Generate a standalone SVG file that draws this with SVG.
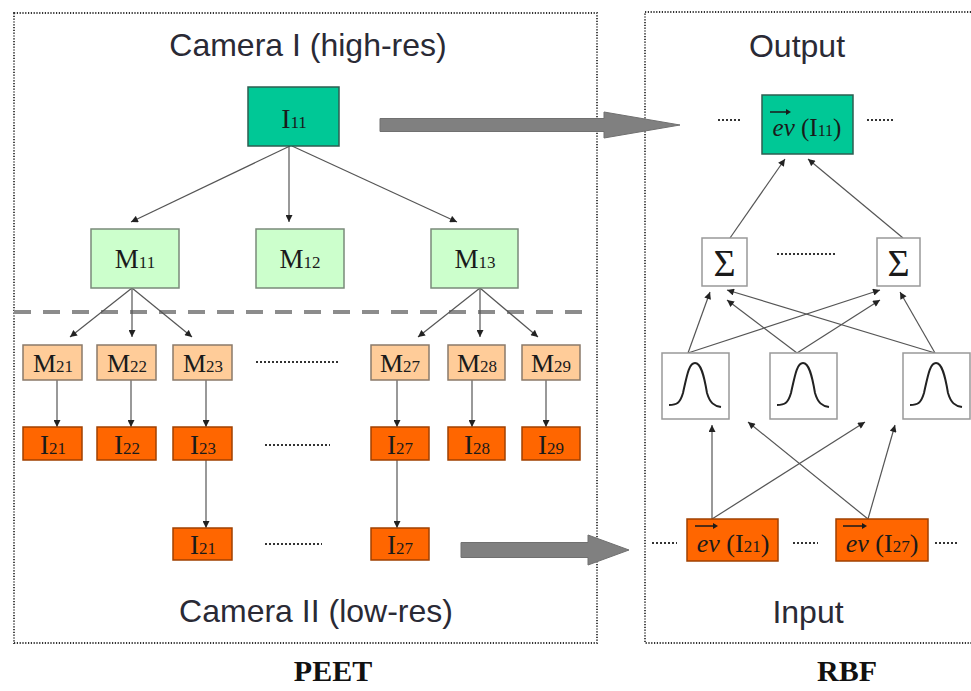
<svg xmlns="http://www.w3.org/2000/svg" width="971" height="691" viewBox="0 0 971 691">
<defs>
<marker id="ah" viewBox="0 0 10 10" refX="10" refY="5" markerWidth="8" markerHeight="7" markerUnits="userSpaceOnUse" orient="auto"><path d="M0,0 L10,5 L0,10 z" fill="#222"/></marker>
<path id="bell" d="M7,52 C15,52 18,50 21,40 C25,22 27,10 33,10 C39,10 42,22 45,40 C48,50 52,53 59,54" fill="none" stroke="#222" stroke-width="2"/>
</defs>
<style>
.panel{fill:none;stroke:#333;stroke-width:1.8;stroke-dasharray:1.2 1.6}
.lbl{font-family:"Liberation Sans",Arial,sans-serif;font-size:32px;fill:#2a2a35;text-anchor:middle}
.ttl{font-family:"Liberation Serif","Times New Roman",serif;font-size:30px;font-weight:bold;fill:#111;text-anchor:middle}
.nt{font-family:"Liberation Serif","Times New Roman",serif;fill:#1a1a1a;text-anchor:middle}
.teal{fill:#00c896;stroke:#2c5e50;stroke-width:1.5}
.lg{fill:#ccffcc;stroke:#7a8a7a;stroke-width:1.5}
.pch{fill:#ffcc99;stroke:#8a7a6a;stroke-width:1.5}
.org{fill:#ff6600;stroke:#a04000;stroke-width:1.5}
.wb{fill:#fff;stroke:#999;stroke-width:1.5}
.con{stroke:#555;stroke-width:1.2;fill:none;marker-end:url(#ah)}
.dots{stroke:#333;stroke-width:2;stroke-dasharray:2 2}
.big{fill:#808080;stroke:#707070;stroke-width:1}
</style>
<rect width="971" height="691" fill="#fff"/>

<!-- panels -->
<rect class="panel" x="14" y="13" width="583" height="630"/>
<path class="panel" d="M971,12 L645,12 L645,643 L971,643"/>
<line x1="14" y1="312" x2="590" y2="312" stroke="#8c8c8c" stroke-width="4" stroke-dasharray="17 12"/>

<text class="lbl" x="308" y="56">Camera I (high-res)</text>
<text class="lbl" x="316" y="622">Camera II (low-res)</text>
<text class="lbl" x="797" y="57">Output</text>
<text class="lbl" x="808" y="623">Input</text>
<text class="ttl" x="333" y="681">PEET</text>
<text class="ttl" x="847" y="681">RBF</text>

<!-- dots -->
<line class="dots" x1="256" y1="362" x2="339" y2="362"/>
<line class="dots" x1="265" y1="445" x2="330" y2="445"/>
<line class="dots" x1="265" y1="544" x2="322" y2="544"/>
<line class="dots" x1="718" y1="120" x2="742" y2="120"/>
<line class="dots" x1="867" y1="120" x2="893" y2="120"/>
<line class="dots" x1="777" y1="254" x2="835" y2="254"/>
<line class="dots" x1="652" y1="543" x2="677" y2="543"/>
<line class="dots" x1="793" y1="543" x2="818" y2="543"/>
<line class="dots" x1="935" y1="543" x2="958" y2="543"/>

<!-- connectors -->
<g id="connectors">
<polygon class="big" points="380,118.5 604,118.5 604,112 680,125 604,138 604,131.5 380,131.5"/>
<polygon class="big" points="461,542.5 588,542.5 588,535 629,550 588,565 588,557.5 461,557.5"/>
<line class="con" x1="290" y1="146" x2="131" y2="222"/>
<line class="con" x1="289" y1="146" x2="289" y2="222"/>
<line class="con" x1="292" y1="146" x2="457" y2="222"/>
<line class="con" x1="132" y1="288" x2="70" y2="337"/>
<line class="con" x1="132" y1="288" x2="132" y2="337"/>
<line class="con" x1="132" y1="288" x2="192" y2="337"/>
<line class="con" x1="480" y1="288" x2="418" y2="337"/>
<line class="con" x1="480" y1="288" x2="480" y2="337"/>
<line class="con" x1="480" y1="288" x2="538" y2="337"/>
<line class="con" x1="57" y1="380" x2="57" y2="427"/>
<line class="con" x1="131" y1="380" x2="131" y2="427"/>
<line class="con" x1="206" y1="380" x2="206" y2="427"/>
<line class="con" x1="397" y1="380" x2="397" y2="427"/>
<line class="con" x1="472" y1="380" x2="472" y2="427"/>
<line class="con" x1="546" y1="380" x2="546" y2="427"/>
<line class="con" x1="206" y1="460" x2="206" y2="528"/>
<line class="con" x1="397" y1="460" x2="397" y2="528"/>
<line class="con" x1="730" y1="238" x2="785" y2="159"/>
<line class="con" x1="903" y1="238" x2="808" y2="159"/>
<line class="con" x1="688" y1="353" x2="710" y2="292"/>
<line class="con" x1="688" y1="353" x2="880" y2="290"/>
<line class="con" x1="797" y1="353" x2="727" y2="300"/>
<line class="con" x1="797" y1="353" x2="880" y2="300"/>
<line class="con" x1="935" y1="353" x2="727" y2="290"/>
<line class="con" x1="935" y1="353" x2="900" y2="292"/>
<line class="con" x1="712" y1="519" x2="712" y2="425"/>
<line class="con" x1="712" y1="519" x2="865" y2="422"/>
<line class="con" x1="868" y1="519" x2="748" y2="422"/>
<line class="con" x1="868" y1="519" x2="895" y2="425"/>
</g>

<!-- PEET nodes -->
<g id="I11"><rect class="teal" x="248" y="87" width="91" height="59"/><text class="nt" x="294" y="128" font-size="28">I<tspan font-size="17">11</tspan></text></g>
<g id="M11"><rect class="lg" x="91" y="229" width="88" height="59"/><text class="nt" x="135" y="268" font-size="27">M<tspan font-size="17">11</tspan></text></g>
<g id="M12"><rect class="lg" x="256" y="229" width="88" height="59"/><text class="nt" x="300" y="268" font-size="27">M<tspan font-size="17">12</tspan></text></g>
<g id="M13"><rect class="lg" x="431" y="229" width="87" height="59"/><text class="nt" x="475" y="268" font-size="27">M<tspan font-size="17">13</tspan></text></g>

<g id="M21"><rect class="pch" x="23" y="345" width="59" height="35"/><text class="nt" x="53" y="372" font-size="26">M<tspan font-size="17">21</tspan></text></g>
<g id="M22"><rect class="pch" x="97" y="345" width="59" height="35"/><text class="nt" x="127" y="372" font-size="26">M<tspan font-size="17">22</tspan></text></g>
<g id="M23"><rect class="pch" x="173" y="345" width="59" height="35"/><text class="nt" x="203" y="372" font-size="26">M<tspan font-size="17">23</tspan></text></g>
<g id="M27"><rect class="pch" x="371" y="345" width="58" height="35"/><text class="nt" x="400" y="372" font-size="26">M<tspan font-size="17">27</tspan></text></g>
<g id="M28"><rect class="pch" x="448" y="345" width="57" height="35"/><text class="nt" x="477" y="372" font-size="26">M<tspan font-size="17">28</tspan></text></g>
<g id="M29"><rect class="pch" x="522" y="345" width="58" height="35"/><text class="nt" x="551" y="372" font-size="26">M<tspan font-size="17">29</tspan></text></g>

<g id="I21"><rect class="org" x="23" y="427" width="59" height="33"/><text class="nt" x="53" y="454" font-size="27">I<tspan font-size="17">21</tspan></text></g>
<g id="I22"><rect class="org" x="97" y="427" width="59" height="33"/><text class="nt" x="127" y="454" font-size="27">I<tspan font-size="17">22</tspan></text></g>
<g id="I23"><rect class="org" x="173" y="427" width="59" height="33"/><text class="nt" x="203" y="454" font-size="27">I<tspan font-size="17">23</tspan></text></g>
<g id="I27"><rect class="org" x="371" y="427" width="58" height="33"/><text class="nt" x="400" y="454" font-size="27">I<tspan font-size="17">27</tspan></text></g>
<g id="I28"><rect class="org" x="448" y="427" width="57" height="33"/><text class="nt" x="477" y="454" font-size="27">I<tspan font-size="17">28</tspan></text></g>
<g id="I29"><rect class="org" x="522" y="427" width="58" height="33"/><text class="nt" x="551" y="454" font-size="27">I<tspan font-size="17">29</tspan></text></g>

<g id="I21b"><rect class="org" x="173" y="528" width="59" height="32"/><text class="nt" x="203" y="554" font-size="27">I<tspan font-size="17">21</tspan></text></g>
<g id="I27b"><rect class="org" x="371" y="528" width="58" height="32"/><text class="nt" x="400" y="554" font-size="27">I<tspan font-size="17">27</tspan></text></g>

<!-- RBF nodes -->
<g id="evI11"><rect class="teal" x="762" y="95" width="91" height="59"/>
<path d="M770,112 L786,112" stroke="#1a1a1a" stroke-width="1.5" fill="none"/><path d="M786,109 L791,112 L786,115 z" fill="#1a1a1a"/>
<text class="nt" x="807" y="136" font-size="25"><tspan font-style="italic">ev</tspan> (I<tspan font-size="16">11</tspan>)</text></g>

<g id="sum1"><rect class="wb" x="702" y="238" width="45" height="48"/><text class="nt" x="724.5" y="276" font-size="38">Σ</text></g>
<g id="sum2"><rect class="wb" x="877" y="238" width="43" height="48"/><text class="nt" x="898.5" y="276" font-size="38">Σ</text></g>

<g id="g1"><rect class="wb" x="662" y="353" width="67" height="66"/><use href="#bell" x="662" y="353"/></g>
<g id="g2"><rect class="wb" x="770" y="353" width="67" height="66"/><use href="#bell" x="770" y="353"/></g>
<g id="g3"><rect class="wb" x="903" y="353" width="67" height="66"/><use href="#bell" x="903" y="353"/></g>

<g id="evI21"><rect class="org" x="687" y="519" width="91" height="42"/>
<path d="M695,526 L713,526" stroke="#1a1a1a" stroke-width="1.5" fill="none"/><path d="M713,523 L718,526 L713,529 z" fill="#1a1a1a"/>
<text class="nt" x="733" y="552" font-size="26"><tspan font-style="italic">ev</tspan> (I<tspan font-size="17">21</tspan>)</text></g>
<g id="evI27"><rect class="org" x="836" y="519" width="92" height="42"/>
<path d="M843,526 L862,526" stroke="#1a1a1a" stroke-width="1.5" fill="none"/><path d="M862,523 L867,526 L862,529 z" fill="#1a1a1a"/>
<text class="nt" x="882" y="552" font-size="26"><tspan font-style="italic">ev</tspan> (I<tspan font-size="17">27</tspan>)</text></g>
</svg>
